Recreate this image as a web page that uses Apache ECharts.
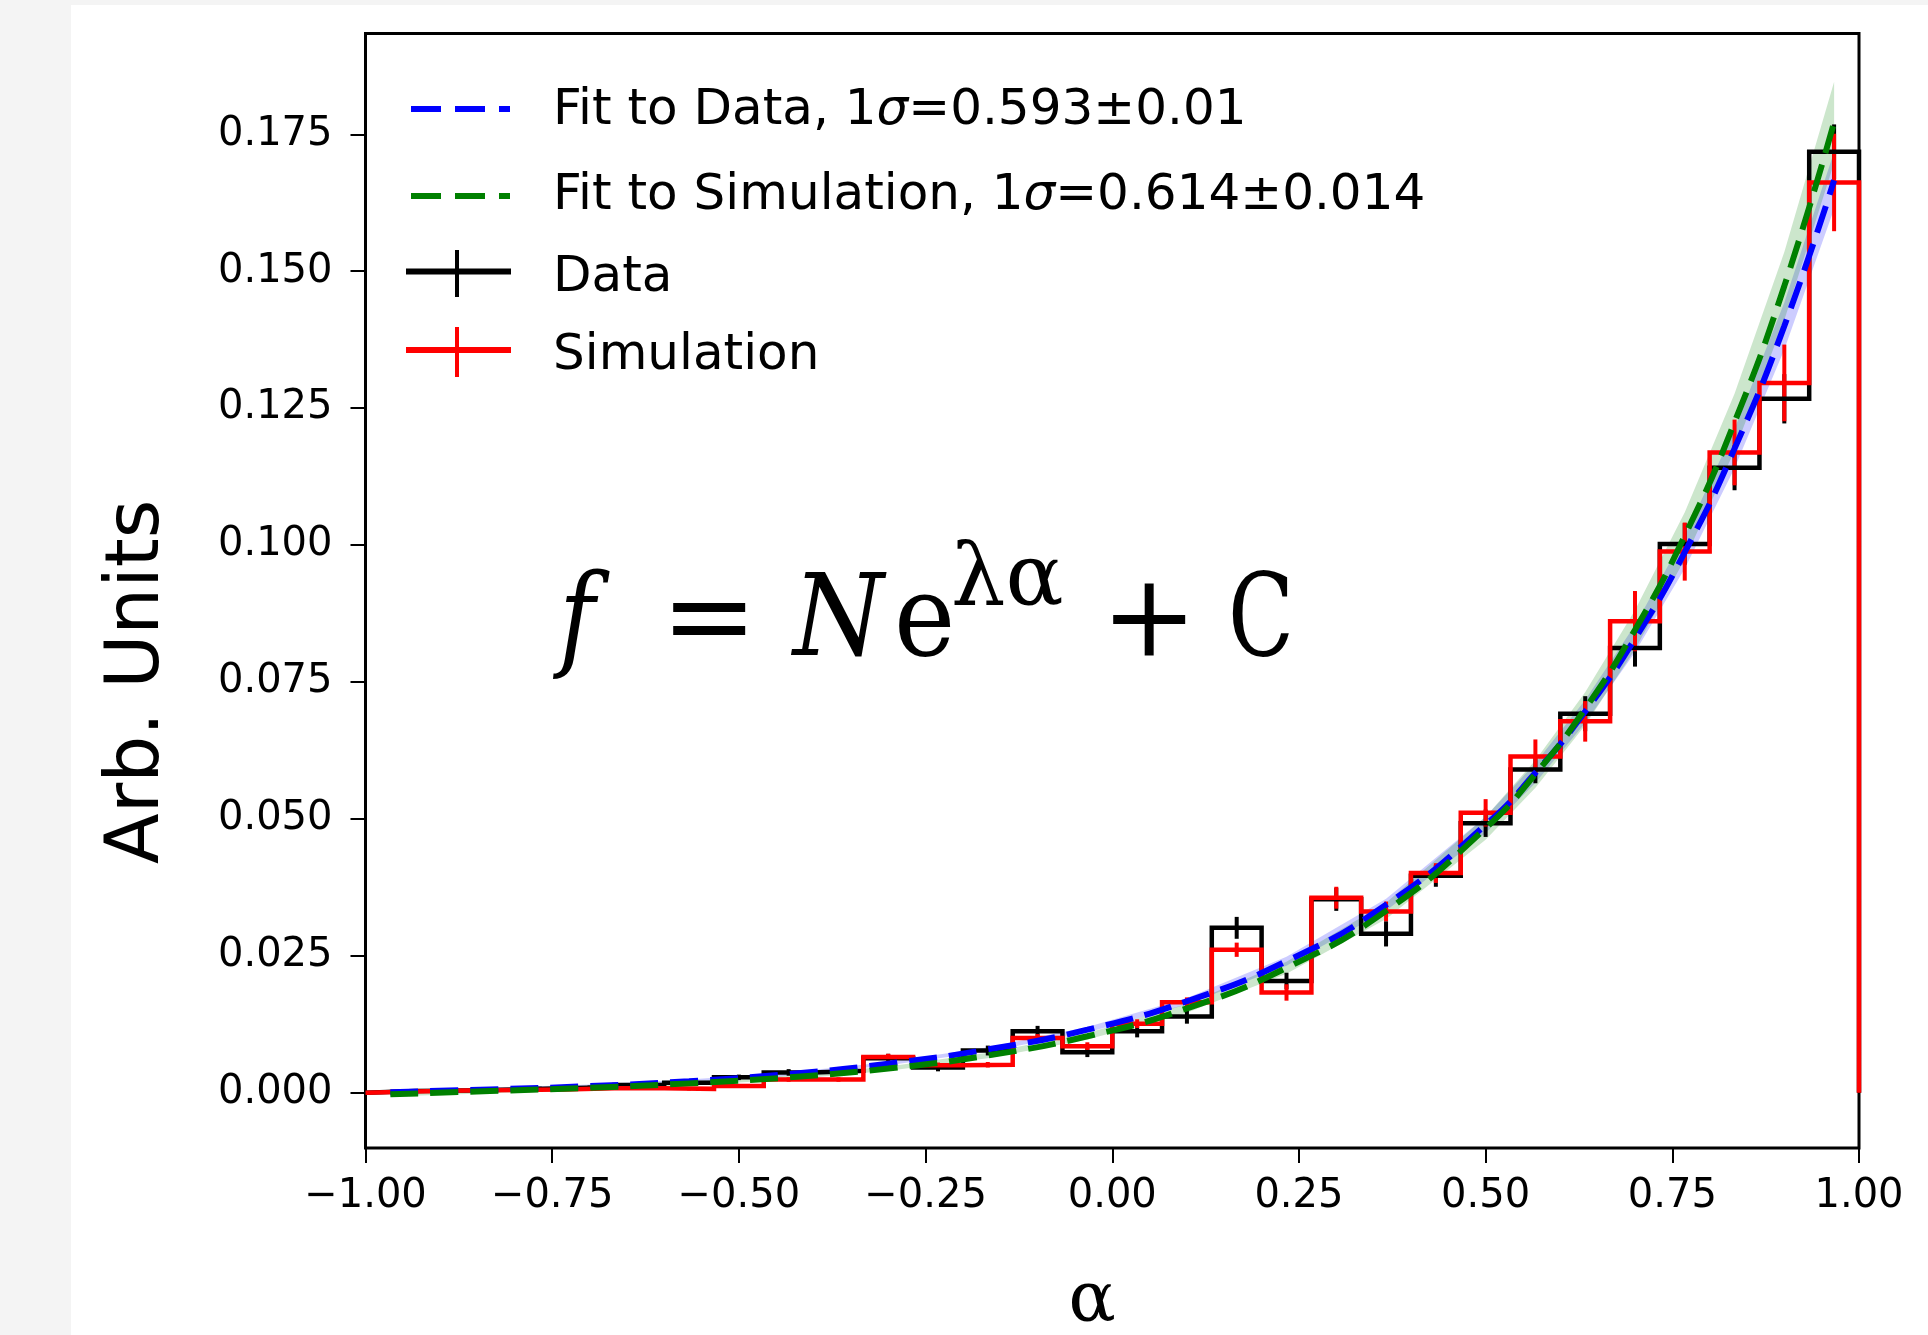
<!DOCTYPE html>
<html><head><meta charset="utf-8">
<script src="https://cdn.jsdelivr.net/npm/echarts@6/dist/echarts.min.js"></script>
<style>
html,body{margin:0;padding:0;background:#f4f4f4;width:1928px;height:1335px;overflow:hidden}
#chart{position:absolute;left:71px;top:5px;width:1857px;height:1330px;background:#fff}
</style></head><body><div id="chart"></div>
<script>
// ---- bins (30 bins on alpha in [-1, 1]) ----
const binEdges = [-1.0, -0.9333, -0.8667, -0.8, -0.7333, -0.6667, -0.6, -0.5333, -0.4667, -0.4, -0.3333,
  -0.2667, -0.2, -0.1333, -0.0667, 0.0, 0.0667, 0.1333, 0.2, 0.2667, 0.3333, 0.4, 0.4667, 0.5333, 0.6,
  0.6667, 0.7333, 0.8, 0.8667, 0.9333, 1.0];

// ---- Data histogram (black) ----
const dataValues = [0.0003, 0.0004, 0.0006, 0.0008, 0.0010, 0.0014, 0.0018, 0.0028, 0.0037, 0.0040,
  0.0063, 0.0046, 0.0077, 0.0112, 0.0074, 0.0112, 0.0139, 0.0301, 0.0204, 0.0353,
  0.0290, 0.0396, 0.0492, 0.0590, 0.0692, 0.0812, 0.1002, 0.1141, 0.1267, 0.1718];
const dataErrors = [0.0002, 0.0002, 0.0003, 0.0003, 0.0003, 0.0004, 0.0004, 0.0005, 0.0006, 0.0006,
  0.0008, 0.0007, 0.0009, 0.0010, 0.0009, 0.0011, 0.0013, 0.0020, 0.0015, 0.0021,
  0.0023, 0.0020, 0.0025, 0.0025, 0.0032, 0.0034, 0.0038, 0.0041, 0.0045, 0.0050];

// ---- Simulation histogram (red) ----
const simValues = [0.0002, 0.0004, 0.0005, 0.0006, 0.0008, 0.0008, 0.0007, 0.0012, 0.0024, 0.0024,
  0.0065, 0.0050, 0.0051, 0.0100, 0.0085, 0.0126, 0.0165, 0.0261, 0.0183, 0.0356,
  0.0331, 0.0401, 0.0511, 0.0614, 0.0678, 0.0861, 0.0988, 0.1169, 0.1296, 0.1662];
const simErrors = [0.0002, 0.0002, 0.0002, 0.0002, 0.0003, 0.0003, 0.0003, 0.0003, 0.0004, 0.0004,
  0.0006, 0.0005, 0.0005, 0.0007, 0.0007, 0.0008, 0.0009, 0.0013, 0.0015, 0.0020,
  0.0018, 0.0018, 0.0025, 0.0031, 0.0037, 0.0055, 0.0053, 0.0060, 0.0070, 0.0089];

// ---- fitted curves ----
const fitX = [-0.9667, -0.8333, -0.7, -0.5667, -0.4333, -0.3, -0.1667, -0.0333, 0.1, 0.2333,
  0.3667, 0.5, 0.5667, 0.6333, 0.7, 0.7667, 0.8333, 0.9, 0.9667];
const fitData = [0.0001, 0.0006, 0.0012, 0.0021, 0.0034, 0.0053, 0.0079, 0.0115, 0.0167, 0.0240,
  0.0343, 0.0489, 0.0584, 0.0696, 0.0829, 0.0987, 0.1176, 0.1400, 0.1666];
const fitDataBand = [0.0003, 0.0003, 0.0003, 0.0003, 0.0003, 0.0003, 0.0004, 0.0005, 0.0006, 0.0008,
  0.0011, 0.0015, 0.0018, 0.0021, 0.0025, 0.0030, 0.0036, 0.0043, 0.0052];
const fitSim = [-0.0003, 0.0003, 0.0009, 0.0017, 0.0028, 0.0044, 0.0068, 0.0103, 0.0154, 0.0228,
  0.0332, 0.0483, 0.0582, 0.0701, 0.0845, 0.1017, 0.1224, 0.1473, 0.1772];
const fitSimBand = [0.0004, 0.0004, 0.0004, 0.0004, 0.0004, 0.0004, 0.0005, 0.0006, 0.0008, 0.0011,
  0.0015, 0.0021, 0.0025, 0.0030, 0.0036, 0.0043, 0.0052, 0.0062, 0.0074];

// ---- ticks ----
const xTicks = [-1.0, -0.75, -0.5, -0.25, 0.0, 0.25, 0.5, 0.75, 1.0];
const yTicks = [0.0, 0.025, 0.05, 0.075, 0.1, 0.125, 0.15, 0.175];

// ---- labels ----
const legendLabels = ['Fit to Data, 1{it|σ}=0.593±0.01', 'Fit to Simulation, 1{it|σ}=0.614±0.014', 'Data', 'Simulation'];

// ---------------- build ----------------
const binCenters = dataValues.map((_, i) => (binEdges[i] + binEdges[i + 1]) / 2);
function stepPoints(vals) {
  const pts = [[binEdges[0], 0]];
  vals.forEach((v, i) => { pts.push([binEdges[i], v]); pts.push([binEdges[i + 1], v]); });
  pts.push([binEdges[binEdges.length - 1], 0]);
  return pts;
}
function errPoints(vals, errs) { return vals.map((v, i) => [binCenters[i], v, errs[i]]); }
function bandPoints(c, w) { return fitX.map((x, i) => [x, c[i] - w[i], c[i] + w[i]]); }
function curve(c) { return fitX.map((x, i) => [x, c[i]]); }

function errRender(color) {
  return function (params, api) {
    const x = api.value(0), v = api.value(1), e = api.value(2);
    const p1 = api.coord([x, v - e]), p2 = api.coord([x, v + e]);
    return { type: 'line', shape: { x1: p1[0], y1: p1[1], x2: p2[0], y2: p2[1] },
      style: { stroke: color, lineWidth: 4 } };
  };
}
function bandRender(color) {
  return function (params, api) {
    if (params.dataIndexInside !== 0) return null;
    const n = params.dataInsideLength;
    const up = [], lo = [];
    for (let j = 0; j < n; j++) {
      const x = api.value(0, j);
      lo.push(api.coord([x, api.value(1, j)]));
      up.push(api.coord([x, api.value(2, j)]));
    }
    return { type: 'polygon', shape: { points: lo.concat(up.reverse()) }, style: { fill: color } };
  };
}

const TXT = 'DejaVu Sans';
const chart = echarts.init(document.getElementById('chart'), null, { renderer: 'canvas' });

const legendY = [106, 191.5, 273, 351];
const graphics = [];
graphics.push({ type: 'line', z: 100, shape: { x1: 340, y1: 104, x2: 439, y2: 104 },
  style: { stroke: '#0000ff', lineWidth: 6, lineDash: [30, 14] } });
graphics.push({ type: 'line', z: 100, shape: { x1: 340, y1: 191, x2: 439, y2: 191 },
  style: { stroke: '#008000', lineWidth: 6, lineDash: [30, 14] } });
graphics.push({ type: 'line', z: 100, shape: { x1: 335, y1: 266.5, x2: 440, y2: 266.5 },
  style: { stroke: '#000000', lineWidth: 6 } });
graphics.push({ type: 'line', z: 100, shape: { x1: 386, y1: 245, x2: 386, y2: 292 },
  style: { stroke: '#000000', lineWidth: 4 } });
graphics.push({ type: 'line', z: 100, shape: { x1: 335, y1: 345, x2: 440, y2: 345 },
  style: { stroke: '#ff0000', lineWidth: 6 } });
graphics.push({ type: 'line', z: 100, shape: { x1: 386, y1: 322, x2: 386, y2: 372 },
  style: { stroke: '#ff0000', lineWidth: 4 } });
legendLabels.forEach((t, i) => {
  graphics.push({ type: 'text', z: 100, x: 482, y: legendY[i],
    style: { text: t, fill: '#000', font: '50px "DejaVu Sans"', align: 'left', verticalAlign: 'middle',
      rich: { it: { fontStyle: 'italic', fontSize: 50, fontFamily: TXT } } } });
});
// formula annotation
const SERIF = '"DejaVu Serif"';
const formula = [
  { t: 'f', x: 488, y: 620, f: 'italic 115px ' + SERIF, sx: 0.85 },
  { t: '=', x: 590, y: 620, f: '115px ' + SERIF, sx: 1 },
  { t: 'N', x: 722, y: 620, f: 'italic 115px ' + SERIF, sx: 0.9 },
  { t: 'e', x: 823, y: 620, f: '115px ' + SERIF, sx: 0.9 },
  { t: 'λα', x: 880, y: 578, f: '86px ' + SERIF, sx: 1 },
  { t: '+', x: 1030, y: 620, f: '115px ' + SERIF, sx: 1 },
  { t: 'C', x: 1157, y: 620, f: '115px ' + SERIF, sx: 0.75 }
];
formula.forEach(p => graphics.push({ type: 'text', z: 100, x: p.x, y: p.y, scaleX: p.sx,
  style: { text: p.t, font: p.f, fill: '#000', align: 'left', verticalAlign: 'middle' } }));

const option = {
  animation: false,
  backgroundColor: '#ffffff',
  grid: { left: 294.5, top: 28.5, right: 69, bottom: 187, show: true, borderColor: '#000', borderWidth: 3,
    backgroundColor: '#ffffff', containLabel: false, outerBoundsMode: 'none' },
  xAxis: {
    type: 'value', min: -1, max: 1, interval: 0.25,
    name: 'α', nameLocation: 'middle', nameGap: 119,
    nameTextStyle: { fontSize: 70, fontFamily: 'DejaVu Serif', color: '#000', padding: [0, 40, 0, 0] },
    axisLine: { show: false, onZero: false },
    axisTick: { show: true, inside: false, length: 15, lineStyle: { color: '#000', width: 2 } },
    axisLabel: { margin: 29, fontSize: 40, fontFamily: TXT, color: '#000',
      formatter: v => v.toFixed(2).replace('-', '\u2212') },
    splitLine: { show: false }
  },
  yAxis: {
    type: 'value', min: -0.0101, max: 0.1934,
    name: 'Arb. Units', nameLocation: 'middle', nameRotate: 90, nameGap: 190,
    nameTextStyle: { fontSize: 74, fontFamily: TXT, color: '#000', padding: [0, 182, 0, 0] },
    axisLine: { show: false, onZero: false },
    axisTick: { show: true, inside: false, length: 15, customValues: yTicks, lineStyle: { color: '#000', width: 2 } },
    axisLabel: { margin: 33, fontSize: 40, fontFamily: TXT, color: '#000', customValues: yTicks,
      formatter: v => v.toFixed(3) },
    splitLine: { show: false }
  },
  graphic: graphics,
  series: [
    { name: 'Fit to Data band', type: 'custom', data: bandPoints(fitData, fitDataBand), encode: { x: 0, y: [1, 2] },
      renderItem: bandRender('rgba(0,0,255,0.2)'), silent: true },
    { name: 'Fit to Simulation band', type: 'custom', data: bandPoints(fitSim, fitSimBand), encode: { x: 0, y: [1, 2] },
      renderItem: bandRender('rgba(0,128,0,0.2)'), silent: true },
    { name: 'Data', type: 'line', data: stepPoints(dataValues), showSymbol: false, symbol: 'none',
      lineStyle: { color: '#000000', width: 4.5, join: 'miter' } },
    { name: 'Simulation', type: 'line', data: stepPoints(simValues), showSymbol: false, symbol: 'none',
      lineStyle: { color: '#ff0000', width: 4.5, join: 'miter' } },
    { name: 'Data errors', type: 'custom', data: errPoints(dataValues, dataErrors), encode: { x: 0, y: [1] },
      renderItem: errRender('#000000') },
    { name: 'Simulation errors', type: 'custom', data: errPoints(simValues, simErrors), encode: { x: 0, y: [1] },
      renderItem: errRender('#ff0000') },
    { name: 'Fit to Data', type: 'line', data: curve(fitData), smooth: true, showSymbol: false, symbol: 'none',
      lineStyle: { color: '#0000ff', width: 6, type: [28, 12] } },
    { name: 'Fit to Simulation', type: 'line', data: curve(fitSim), smooth: true, showSymbol: false, symbol: 'none',
      lineStyle: { color: '#008000', width: 6, type: [28, 12] } }
  ]
};
chart.setOption(option);
</script></body></html>
